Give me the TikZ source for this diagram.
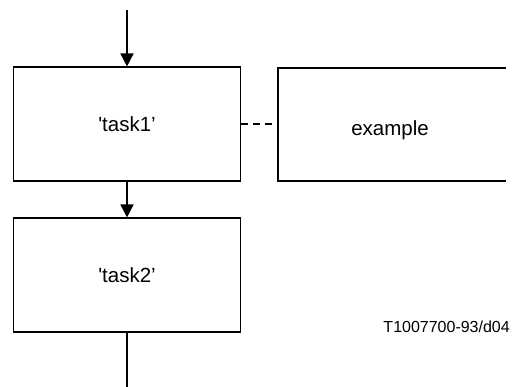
\documentclass[tikz,border=0pt]{standalone}
\usepackage{fontspec}
\setmainfont{Liberation Sans}
\usetikzlibrary{arrows.meta}
\begin{document}
\begin{tikzpicture}[x=1pt,y=-1pt,
  box/.style={draw,line width=1.1pt,minimum width=227pt,minimum height=114pt,inner sep=0pt,font=\fontsize{20.5}{24}\selectfont},
  flow/.style={line width=1.6pt,-{Triangle[length=13pt,width=13pt]}},
  big/.style={font=\fontsize{20.5}{24}\selectfont,inner sep=0pt},
  lbl/.style={font=\fontsize{16}{19}\selectfont,inner sep=0pt}]
\useasboundingbox (0,0) rectangle (512,387);
\node[box] (t1) at (127,124) {\textquotesingle task1’};
\node[box] (t2) at (127,275) {\textquotesingle task2’};
\coordinate (top) at (127,10);
\coordinate (bot) at (127,387);
\coordinate (exTL) at (278,68);
\coordinate (exBL) at (278,181);
\coordinate (exTR) at (506,68);
\coordinate (exBR) at (506,181);
\coordinate (exL) at (278,124);
\draw[line width=1.1pt] (exTR) -- (exTL) -- (exBL) -- (exBR);
\node[big] (ex) at (390,130) {example};
\draw[flow] (top) -- (t1.north);
\draw[flow] (t1.south) -- (t2.north);
\draw[line width=1.6pt] (t2.south) -- (bot);
\draw[line width=1.6pt,dash pattern=on 7pt off 5pt] (t1.east) -- (exL);
\node[lbl,anchor=east] (id) at (510,327) {T1007700-93/d04};
\end{tikzpicture}
\end{document}
